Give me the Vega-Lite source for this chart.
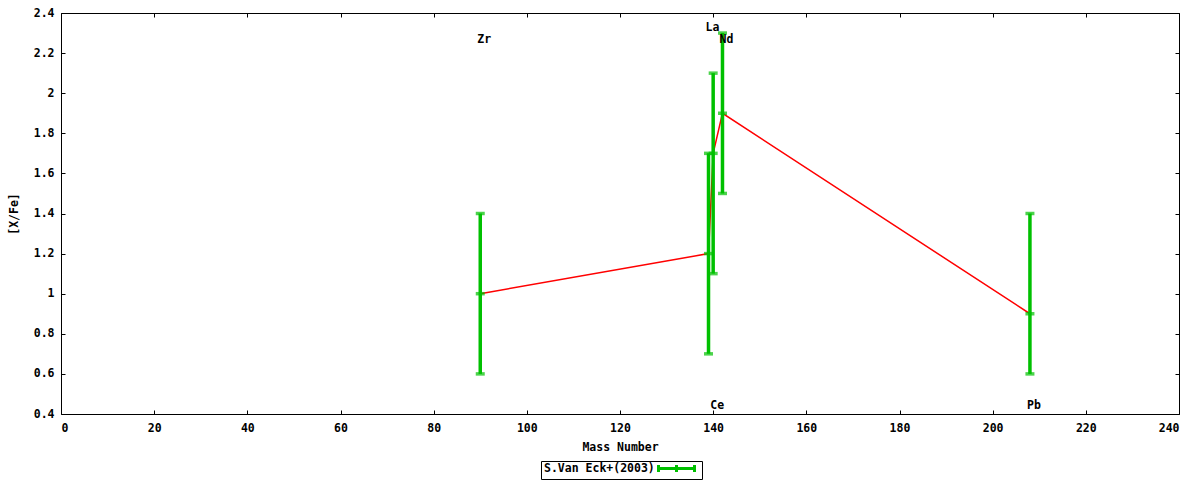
{
  "$schema": "https://vega.github.io/schema/vega-lite/v6.json",
  "width": 1118,
  "height": 401,
  "autosize": {"type": "none"},
  "padding": {"left": 61, "top": 13, "right": 21, "bottom": 66},
  "background": "white",
  "config": {
    "view": {"stroke": "#000", "strokeWidth": 1},
    "font": "DejaVu Sans Mono",
    "axis": {
      "grid": false,
      "domain": false,
      "tickColor": "#000",
      "tickSize": -4,
      "tickWidth": 1,
      "labelFont": "DejaVu Sans Mono",
      "labelFontSize": 11.5,
      "labelFontWeight": "bold",
      "labelColor": "#000",
      "titleFont": "DejaVu Sans Mono",
      "titleFontSize": 11.5,
      "titleFontWeight": "bold",
      "titleColor": "#000"
    }
  },
  "data": {
    "values": [
      {"element": "Zr", "mass": 90, "value": 1.0, "low": 0.6, "high": 1.4, "labelY": 2.28},
      {"element": "La", "mass": 139, "value": 1.2, "low": 0.7, "high": 1.7, "labelY": 2.34},
      {"element": "Ce", "mass": 140, "value": 1.7, "low": 1.1, "high": 2.1, "labelY": 0.455},
      {"element": "Nd", "mass": 142, "value": 1.9, "low": 1.5, "high": 2.3, "labelY": 2.28},
      {"element": "Pb", "mass": 208, "value": 0.9, "low": 0.6, "high": 1.4, "labelY": 0.455}
    ]
  },
  "resolve": {"axis": {"x": "independent", "y": "independent"}},
  "layer": [
    {
      "mark": {"type": "line", "color": "#ff0000", "strokeWidth": 1.5},
      "encoding": {
        "x": {
          "field": "mass", "type": "quantitative",
          "scale": {"domain": [0, 240], "nice": false, "zero": false},
          "axis": {"orient": "bottom", "values": [0,20,40,60,80,100,120,140,160,180,200,220,240], "labelPadding": 12, "title": "Mass Number", "titlePadding": 8}
        },
        "y": {
          "field": "value", "type": "quantitative",
          "scale": {"domain": [0.4, 2.4], "nice": false, "zero": false},
          "axis": {"orient": "left", "values": [0.4,0.6,0.8,1.0,1.2,1.4,1.6,1.8,2.0,2.2,2.4], "format": "~g", "labelPadding": 11, "title": "[X/Fe]", "titlePadding": 14}
        }
      }
    },
    {
      "mark": {"type": "rule", "strokeWidth": 3.5},
      "encoding": {
        "x": {"field": "mass", "type": "quantitative", "axis": {"orient": "top", "labels": false, "title": null, "values": [0,20,40,60,80,100,120,140,160,180,200,220,240]}},
        "y": {"field": "low", "type": "quantitative", "axis": {"orient": "right", "labels": false, "title": null, "values": [0.4,0.6,0.8,1.0,1.2,1.4,1.6,1.8,2.0,2.2,2.4]}},
        "y2": {"field": "high"},
        "color": {
          "datum": "S.Van Eck+(2003)",
          "scale": {"range": ["#00c000"]},
          "legend": {
            "title": null,
            "orient": "none",
            "legendX": 480,
            "legendY": 448,
            "symbolType": "M-3.6,0H3.6M-3.6,-0.7V0.7M3.6,-0.7V0.7M0,-0.7V0.7",
            "symbolSize": 100,
            "symbolStrokeWidth": 3,
            "symbolStrokeColor": "#00c000",
            "symbolFillColor": "transparent",
            "symbolOffset": 128,
            "labelFont": "DejaVu Sans Mono",
            "labelFontSize": 11.5,
            "labelFontWeight": "bold",
            "labelColor": "#000",
            "labelAlign": "left",
            "labelOffset": -139,
            "strokeColor": "#000",
            "padding": 1
          }
        }
      }
    },
    {
      "transform": [{"fold": ["low", "value", "high"], "as": ["kind", "yv"]}],
      "mark": {"type": "tick", "orient": "horizontal", "size": 9, "thickness": 3.5, "color": "#00c000"},
      "encoding": {
        "x": {"field": "mass", "type": "quantitative", "axis": null},
        "y": {"field": "yv", "type": "quantitative", "axis": null}
      }
    },
    {
      "mark": {"type": "text", "dx": 4, "dy": 3, "font": "DejaVu Sans Mono", "fontSize": 11.5, "fontWeight": "bold", "color": "#000", "baseline": "middle", "align": "center"},
      "encoding": {
        "x": {"field": "mass", "type": "quantitative", "axis": null},
        "y": {"field": "labelY", "type": "quantitative", "axis": null},
        "text": {"field": "element"}
      }
    }
  ]
}
